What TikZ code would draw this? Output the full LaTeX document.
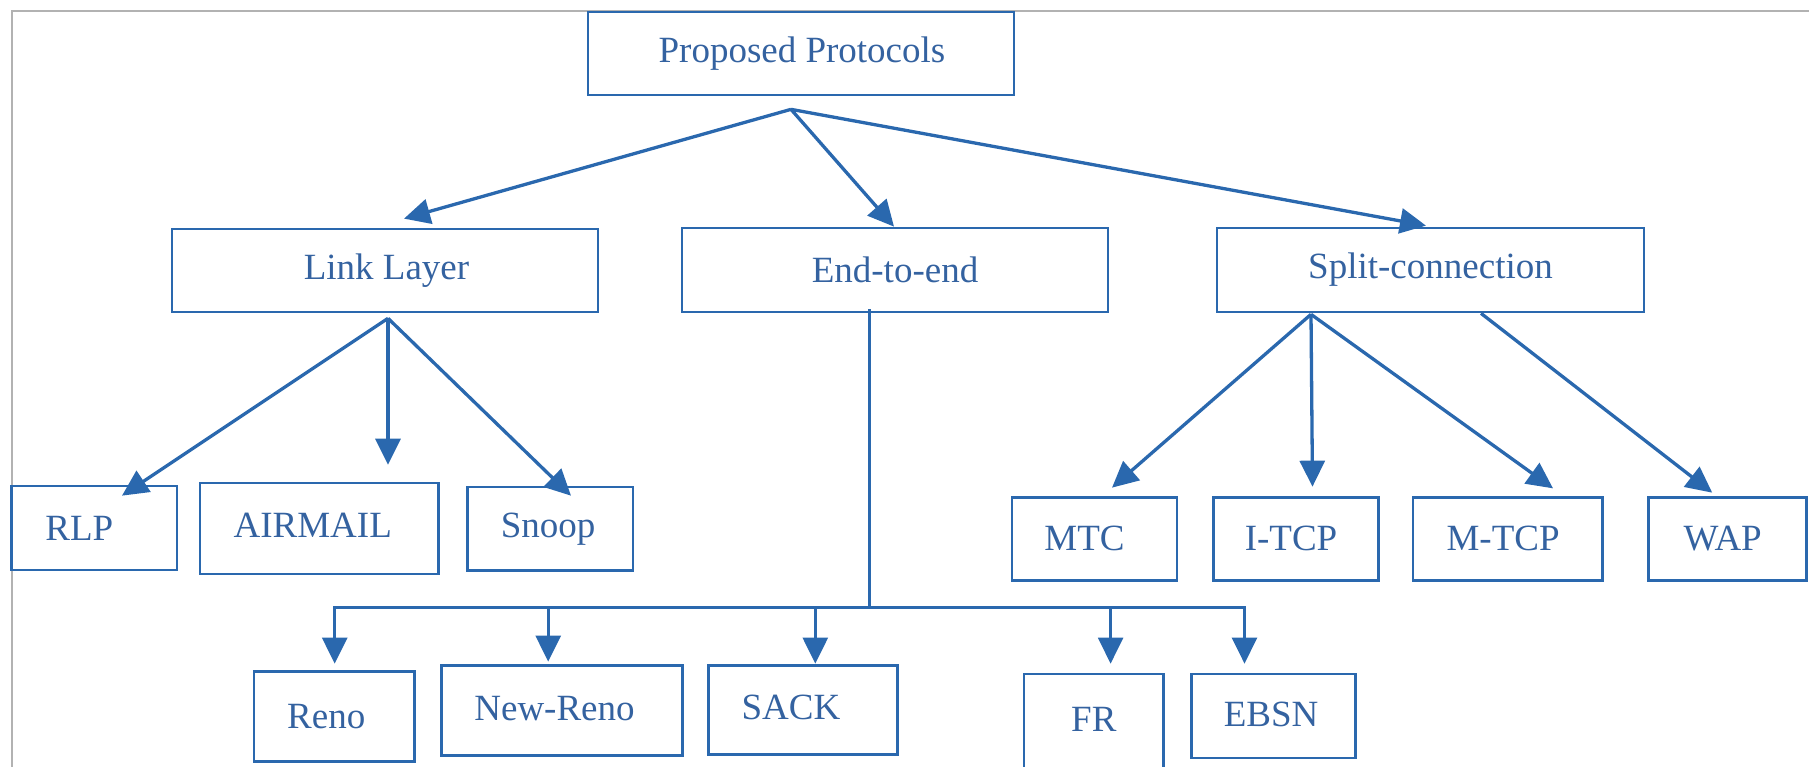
\documentclass[tikz,border=0pt]{standalone}
\usepackage{fontspec}
\setmainfont{Liberation Serif}
\usetikzlibrary{arrows.meta}
\definecolor{linec}{RGB}{42,104,174}
\definecolor{textc}{RGB}{52,98,160}
\definecolor{framec}{RGB}{178,178,178}
\newcommand{\tsh}[2]{\hspace*{#1}#2}
\begin{document}
\begin{tikzpicture}[x=1pt,y=1pt,
  box/.style={draw=linec, line width=2.7pt, inner sep=0pt, text=textc,
    font=\fontsize{37}{44}\selectfont},
  arr/.style={draw=linec, line width=3.3pt, -{Triangle[length=26pt,width=25pt]}},
  tree/.style={draw=linec, line width=2.6pt},
  treearr/.style={draw=linec, line width=2.6pt, -{Triangle[length=26pt,width=25pt]}}]
\useasboundingbox (0,0) rectangle (1809,766);
\draw[framec, line width=2pt] (11.5,-2) -- (11.5,755) -- (1811,755);

% top
\node[box, minimum width=426pt, minimum height=83pt] (prop) at (801,712.5) {\tsh{2pt}{Proposed Protocols}};
% second row
\node[box, minimum width=426pt, minimum height=83pt] (link) at (385,495.5) {\tsh{3pt}{Link Layer}};
\node[box, minimum width=426pt, minimum height=84pt] (e2e) at (895,496) {End-to-end};
\node[box, minimum width=427pt, minimum height=84pt] (split) at (1430.5,496) {Split-connection};
% third row
\node[box, minimum width=165.5pt, minimum height=84pt] (rlp) at (94.25,238) {\tsh{-30pt}{RLP}};
\node[box, minimum width=238.5pt, minimum height=91pt] (airmail) at (319.25,237.5) {\tsh{-13pt}{\raisebox{6pt}{AIRMAIL}}};
\node[box, minimum width=165.6pt, minimum height=83.3pt] (snoop) at (550.2,237.3) {\tsh{-4pt}{Snoop}};
\node[box, minimum width=165pt, minimum height=83pt] (mtc) at (1094.5,227.2) {\tsh{-20pt}{MTC}};
\node[box, minimum width=164.4pt, minimum height=83pt] (itcp) at (1296,227.2) {\tsh{-10pt}{I-TCP}};
\node[box, minimum width=189.2pt, minimum height=83pt] (mtcp) at (1507.6,227.2) {\tsh{-9pt}{M-TCP}};
\node[box, minimum width=158pt, minimum height=83pt] (wap) at (1727.2,227.2) {\tsh{-9pt}{WAP}};
% bottom row
\node[box, minimum width=160.3pt, minimum height=90pt] (reno) at (334.2,49.7) {\tsh{-16pt}{Reno}};
\node[box, minimum width=241.2pt, minimum height=90pt] (nreno) at (562,55.3) {\tsh{-15pt}{\raisebox{5pt}{New-Reno}}};
\node[box, minimum width=188.7pt, minimum height=89pt] (sack) at (803,55.8) {\tsh{-24pt}{\raisebox{5pt}{SACK}}};
\node[box, minimum width=139.7pt, minimum height=94pt] (fr) at (1093.8,45) {\raisebox{3pt}{FR}};
\node[box, minimum width=164.4pt, minimum height=84pt] (ebsn) at (1273.6,50) {\tsh{-5pt}{\raisebox{3pt}{EBSN}}};

% level 1 arrows
\coordinate (pp) at ([xshift=-10pt,yshift=-13pt]prop.south);
\draw[arr] (pp) -- ([xshift=19pt,yshift=9pt]link.north);
\draw[arr] (pp) -- ([xshift=-1pt]e2e.north);
\draw[arr] (pp) -- ([xshift=-4.5pt,yshift=1pt]split.north);

% link layer children
\coordinate (lc) at ([xshift=3pt,yshift=-5pt]link.south);
\draw[arr] (lc) -- ([xshift=27.75pt,yshift=-11pt]rlp.north);
\draw[arr] (lc) -- ([xshift=68.75pt,yshift=17pt]airmail.north);
\draw[arr] (lc) -- ([xshift=20.8pt,yshift=-10pt]snoop.north);

% split-connection children
\coordinate (sc) at ([xshift=-119.5pt,yshift=-1pt]split.south);
\coordinate (wc) at ([xshift=50.5pt]split.south);
\draw[arr] (sc) -- ([xshift=17.5pt,yshift=8.3pt]mtc.north);
\draw[arr] (sc) -- ([xshift=16.5pt,yshift=9.3pt]itcp.north);
\draw[arr] (sc) -- ([xshift=45.4pt,yshift=7.6pt]mtcp.north);
\draw[arr] (wc) -- ([xshift=-15pt,yshift=3.3pt]wap.north);

% end-to-end tree
\coordinate (ec) at ([xshift=-25.5pt,yshift=4pt]e2e.south);
\coordinate (bj) at ([yshift=-298pt]ec);
\coordinate (renotip) at ([xshift=0.5pt,yshift=6.3pt]reno.north);
\coordinate (nrenotip) at ([xshift=-13.8pt,yshift=2.7pt]nreno.north);
\coordinate (sacktip) at ([xshift=12.3pt,yshift=0.7pt]sack.north);
\coordinate (frtip) at ([xshift=16.8pt,yshift=9pt]fr.north);
\coordinate (ebsntip) at ([xshift=-29.1pt,yshift=9pt]ebsn.north);
\draw[tree] (ec) -- (bj);
\draw[tree, line cap=rect] (renotip |- bj) -- (ebsntip |- bj);
\foreach \t in {renotip,nrenotip,sacktip,frtip,ebsntip}
  \draw[treearr] (\t |- bj) -- (\t);
\end{tikzpicture}
\end{document}
